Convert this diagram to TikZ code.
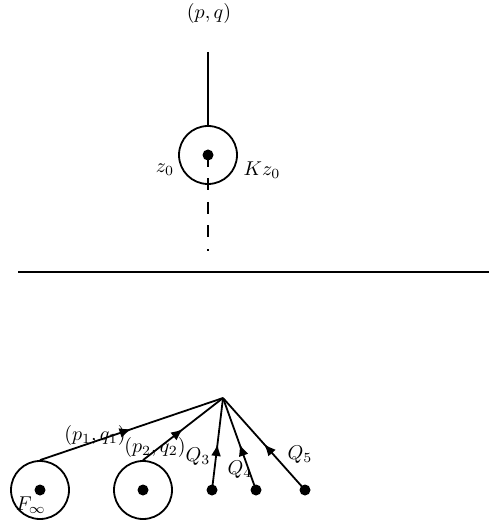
\documentclass[tikz,border=0pt]{standalone}
\usetikzlibrary{arrows.meta,decorations.markings}
\begin{document}
\begin{tikzpicture}[x=0.5pt,y=-0.5pt,
  ln/.style={line width=0.9pt},
  midarrow/.style={ln,postaction={decorate},decoration={markings,mark=at position 0.5 with {\arrow{Latex[length=6pt,width=5pt]}}}},
  dotn/.style={circle,fill=black,inner sep=0pt,minimum size=5.5pt},
  ring/.style={circle,draw,line width=0.9pt,inner sep=0pt,minimum size=29pt},
  lab/.style={inner sep=1pt}]
\useasboundingbox (0,0) rectangle (489,523);
% top part
\node[lab] (pq) at (209,14) {$(p,q)$};
\coordinate (top) at (208,52);
\coordinate (dend) at (208,251);
\coordinate (dstart) at (208,155);
\draw[ln,dash pattern=on 6pt off 5.75pt] (dstart) -- (dend);
\node[ring] (c0) at (208,155) {};
\node[dotn] (d0) at (208,155) {};
\draw[ln] (top) -- (c0.north);
\node[lab] (z0) at (165,170) {$z_0$};
\node[lab] (kz0) at (262,170) {$Kz_0$};
\coordinate (hl) at (18,272);
\coordinate (hr) at (489,272);
\draw[ln] (hl) -- (hr);
% bottom part
\coordinate (apex) at (223,398);
\node[ring] (c1) at (40,490) {};
\node[dotn] (d1) at (40,490) {};
\node[ring] (c2) at (143,490) {};
\node[dotn] (d2) at (143,490) {};
\node[dotn] (q3) at (212,490) {};
\node[dotn] (q4) at (256,490) {};
\node[dotn] (q5) at (305,490) {};
\draw[midarrow] (c1.north) -- (apex);
\draw[midarrow] (c2.north) -- (apex);
\draw[midarrow] (q3.center) -- (apex);
\draw[midarrow] (q4.center) -- (apex);
\draw[midarrow] (q5.center) -- (apex);
\node[lab] (l1) at (95,435) {$(p_1,q_1)$};
\node[lab] (l2) at (155,447) {$(p_2,q_2)$};
\node[lab] (l3) at (198,457) {$Q_3$};
\node[lab] (l4) at (240,470) {$Q_4$};
\node[lab] (l5) at (300,455) {$Q_5$};
\node[lab] (linf) at (31,505) {$F_\infty$};
\end{tikzpicture}
\end{document}
